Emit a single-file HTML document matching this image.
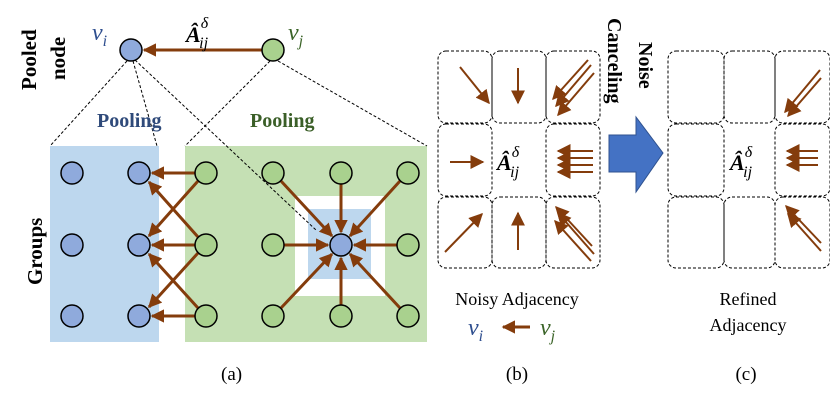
<!DOCTYPE html>
<html><head><meta charset="utf-8"><style>
body{margin:0;background:#fff}
svg{display:block}
text{font-family:"Liberation Serif",serif}
</style></head><body>
<svg width="830" height="400" viewBox="0 0 830 400" xmlns="http://www.w3.org/2000/svg">
<defs>
<marker id="ah" viewBox="0 0 10 10" refX="9" refY="5" markerWidth="4.5" markerHeight="4.5" orient="auto" markerUnits="strokeWidth"><path d="M0,0L10,5L0,10z" fill="#843c0c"/></marker>
<marker id="ah2" viewBox="0 0 10 10" refX="9" refY="5" markerWidth="7" markerHeight="7" orient="auto" markerUnits="strokeWidth"><path d="M0,0L10,5L0,10z" fill="#843c0c"/></marker>
</defs>
<!-- panel a backgrounds -->
<rect x="50" y="146" width="109" height="196" fill="#bdd7ee"/>
<rect x="185" y="146" width="242" height="196" fill="#c5e0b4"/>
<rect x="295" y="196" width="90" height="100" fill="#fff"/>
<rect x="308" y="209" width="63" height="70" fill="#bdd7ee"/>
<!-- dashed lines -->
<g stroke="#000" stroke-width="1" stroke-dasharray="3,2" fill="none">
<line x1="127" y1="61" x2="50" y2="146"/>
<line x1="133" y1="61" x2="157" y2="146"/>
<line x1="135" y1="60" x2="316" y2="230"/>
<line x1="270" y1="61" x2="185" y2="146"/>
<line x1="278" y1="61" x2="427" y2="146"/>
</g>
<!-- arrows -->
<g stroke="#843c0c" stroke-width="3" marker-end="url(#ah)">
<line x1="262" y1="50" x2="144" y2="50"/>
<line x1="195" y1="173" x2="152" y2="173"/>
<line x1="195" y1="245" x2="152" y2="245"/>
<line x1="195" y1="316" x2="152" y2="316"/>
<line x1="198" y1="237" x2="149" y2="182"/>
<line x1="198" y1="181" x2="149" y2="236"/>
<line x1="198" y1="308" x2="149" y2="254"/>
<line x1="198" y1="253" x2="149" y2="307"/>
<line x1="281" y1="181" x2="332" y2="236"/>
<line x1="341" y1="184" x2="341" y2="232"/>
<line x1="400" y1="181" x2="350" y2="236"/>
<line x1="284" y1="245" x2="328" y2="245"/>
<line x1="397" y1="245" x2="354" y2="245"/>
<line x1="281" y1="308" x2="332" y2="254"/>
<line x1="341" y1="305" x2="341" y2="258"/>
<line x1="400" y1="308" x2="350" y2="254"/>
</g>
<!-- nodes -->
<g stroke="#000" stroke-width="1.5">
<circle cx="131" cy="50" r="11" fill="#8faadc"/>
<circle cx="273" cy="50" r="11" fill="#a9d18e"/>
<g fill="#8faadc">
<circle cx="72" cy="173" r="11"/><circle cx="139" cy="173" r="11"/>
<circle cx="72" cy="245" r="11"/><circle cx="139" cy="245" r="11"/>
<circle cx="72" cy="316" r="11"/><circle cx="139" cy="316" r="11"/>
<circle cx="341" cy="245" r="11"/>
</g>
<g fill="#a9d18e">
<circle cx="206" cy="173" r="11"/><circle cx="273" cy="173" r="11"/><circle cx="341" cy="173" r="11"/><circle cx="408" cy="173" r="11"/>
<circle cx="206" cy="245" r="11"/><circle cx="273" cy="245" r="11"/><circle cx="408" cy="245" r="11"/>
<circle cx="206" cy="316" r="11"/><circle cx="273" cy="316" r="11"/><circle cx="341" cy="316" r="11"/><circle cx="408" cy="316" r="11"/>
</g>
</g>
<!-- labels a -->
<text x="92" y="40" font-size="24" font-style="italic" fill="#2f4f8f">v<tspan font-size="16" dy="6">i</tspan></text>
<text x="288" y="40" font-size="24" font-style="italic" fill="#3b6428">v<tspan font-size="16" dy="6">j</tspan></text>
<text x="186" y="42" font-size="22" font-weight="bold" font-style="italic">Â<tspan font-size="16" font-weight="normal" dy="-14">δ</tspan><tspan font-size="16" font-weight="normal" dx="-9" dy="20">ij</tspan></text>
<text x="97" y="127" font-size="20" font-weight="bold" fill="#2f4a7a">Pooling</text>
<text x="250" y="127" font-size="20" font-weight="bold" fill="#3b5f28">Pooling</text>
<text transform="translate(36,90) rotate(-90)" font-size="21" font-weight="bold">Pooled</text>
<text transform="translate(65,80) rotate(-90)" font-size="21" font-weight="bold">node</text>
<text transform="translate(42,285) rotate(-90)" font-size="21" font-weight="bold">Groups</text>
<text x="221" y="380" font-size="19">(a)</text>
<!-- grids -->
<g fill="none" stroke="#000" stroke-width="1" stroke-dasharray="3,2">
<rect x="438" y="51" width="54" height="72" rx="8"/><rect x="492" y="51" width="54" height="72" rx="8"/><rect x="546" y="51" width="54" height="72" rx="8"/>
<rect x="438" y="124" width="54" height="72" rx="8"/><rect x="546" y="124" width="54" height="72" rx="8"/>
<rect x="438" y="197" width="54" height="71" rx="8"/><rect x="492" y="197" width="54" height="71" rx="8"/><rect x="546" y="197" width="54" height="71" rx="8"/>
<rect x="668" y="51" width="56" height="72" rx="8"/><rect x="724" y="51" width="51" height="72" rx="8"/><rect x="775" y="51" width="55" height="72" rx="8"/>
<rect x="668" y="124" width="56" height="72" rx="8"/><rect x="775" y="124" width="55" height="72" rx="8"/>
<rect x="668" y="197" width="56" height="71" rx="8"/><rect x="724" y="197" width="51" height="71" rx="8"/><rect x="775" y="197" width="55" height="71" rx="8"/>
</g>
<g stroke="#843c0c" stroke-width="2" marker-end="url(#ah2)">
<line x1="460" y1="67" x2="489" y2="103"/>
<line x1="518" y1="68" x2="518" y2="103"/>
<line x1="450" y1="162" x2="483" y2="162"/>
<line x1="445" y1="252" x2="482" y2="214"/>
<line x1="518" y1="250" x2="518" y2="213"/>
<line x1="588" y1="60" x2="553" y2="99"/><line x1="591" y1="65" x2="556" y2="106"/><line x1="594" y1="73" x2="558" y2="115"/>
<line x1="593" y1="151" x2="558" y2="151"/><line x1="593" y1="158" x2="558" y2="158"/><line x1="593" y1="165" x2="558" y2="165"/><line x1="593" y1="172" x2="558" y2="172"/>
<line x1="592" y1="246" x2="556" y2="207"/><line x1="594" y1="254" x2="558" y2="213"/><line x1="591" y1="261" x2="555" y2="221"/>
<line x1="820" y1="70" x2="785" y2="112"/><line x1="821" y1="78" x2="788" y2="116"/>
<line x1="818" y1="151" x2="787" y2="151"/><line x1="818" y1="158" x2="787" y2="158"/><line x1="818" y1="165" x2="787" y2="165"/>
<line x1="821" y1="243" x2="786" y2="206"/><line x1="821" y1="251" x2="788" y2="214"/>
</g>
<text x="497" y="170" font-size="22" font-weight="bold" font-style="italic">Â<tspan font-size="16" font-weight="normal" dy="-13">δ</tspan><tspan font-size="16" font-weight="normal" dx="-9" dy="20">ij</tspan></text>
<text x="730" y="170" font-size="22" font-weight="bold" font-style="italic">Â<tspan font-size="16" font-weight="normal" dy="-13">δ</tspan><tspan font-size="16" font-weight="normal" dx="-9" dy="20">ij</tspan></text>
<!-- big arrow -->
<path d="M609,135 L636,135 L636,117 L663,153 L636,192 L636,172 L609,172 Z" fill="#4472c4" stroke="#2f528f" stroke-width="1"/>
<text transform="translate(639,42) rotate(90)" font-size="20" font-weight="bold">Noise</text>
<text transform="translate(608,18) rotate(90)" font-size="20" font-weight="bold">Canceling</text>
<!-- texts b c -->
<text x="517" y="305" font-size="18" text-anchor="middle">Noisy Adjacency</text>
<text x="468" y="335" font-size="24" font-style="italic" fill="#2f4f8f">v<tspan font-size="16" dy="6">i</tspan></text>
<line x1="530" y1="327" x2="503" y2="327" stroke="#843c0c" stroke-width="3" marker-end="url(#ah)"/>
<text x="540" y="335" font-size="24" font-style="italic" fill="#3b6428">v<tspan font-size="16" dy="6">j</tspan></text>
<text x="517" y="380" font-size="19" text-anchor="middle">(b)</text>
<text x="748" y="305" font-size="18" text-anchor="middle">Refined</text>
<text x="748" y="331" font-size="18" text-anchor="middle">Adjacency</text>
<text x="746" y="380" font-size="19" text-anchor="middle">(c)</text>
</svg>
</body></html>
